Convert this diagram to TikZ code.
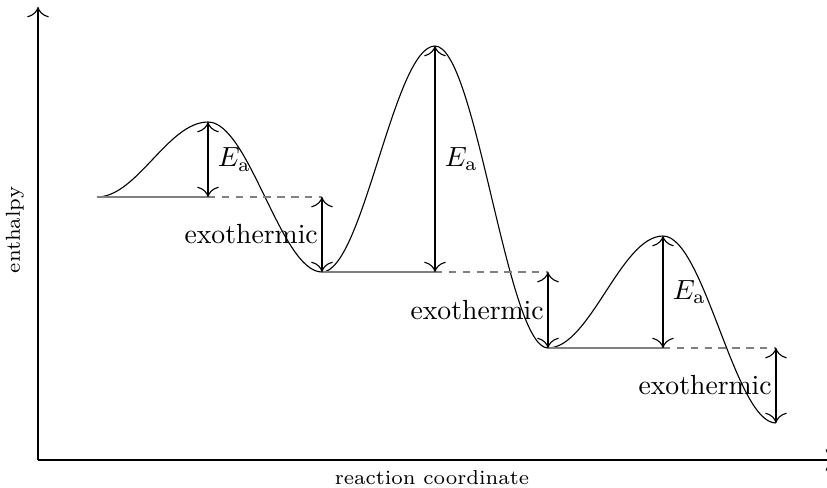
\documentclass[tikz,border=0pt]{standalone}
\usetikzlibrary{calc,arrows.meta}
\begin{document}
\begin{tikzpicture}[x=0.361pt,y=-0.361pt,
  >={To[scale=1.5]},
  level/.style={gray},
  levelext/.style={gray,dashed,dash pattern=on 2.7pt off 2.3pt},
  gap/.style={<->},
  axislabel/.style={font=\fontsize{7.3}{9}\selectfont}]
\useasboundingbox (0,0) rectangle (827,487);
% key points
\coordinate (s)  at (97,197);
\coordinate (p1) at (208,122);
\coordinate (m1) at (322,272);
\coordinate (p2) at (435,46);
\coordinate (m2) at (548,348);
\coordinate (p3) at (663,236);
\coordinate (e)  at (776,423);
% axes
\coordinate (o) at (38,460);
\coordinate (ytop) at (38,7);
\coordinate (xend) at (836,460);
\draw[->] (o) -- (ytop);
\draw[->] (o) -- (xend);
\node[axislabel,rotate=90] (ylab) at (15,230) {enthalpy};
\node[axislabel] (xlab) at (432,478) {reaction coordinate};
% curve
\draw (s) .. controls +(40,0) and +(-40,0) .. (p1)
          .. controls +(41,0) and +(-41,0) .. (m1)
          .. controls +(41,0) and +(-41,0) .. (p2)
          .. controls +(41,0) and +(-41,0) .. (m2)
          .. controls +(42,0) and +(-42,0) .. (p3)
          .. controls +(41,0) and +(-41,0) .. (e);
% levels
\coordinate (b1) at (s -| p1);
\coordinate (t1) at (s -| m1);
\coordinate (b2) at (m1 -| p2);
\coordinate (t2) at (m1 -| m2);
\coordinate (b3) at (m2 -| p3);
\coordinate (t3) at (m2 -| e);
\draw[level] (s) -- (b1);
\draw[levelext] (b1) -- (t1);
\draw[level] (m1) -- (b2);
\draw[levelext] (b2) -- (t2);
\draw[level] (m2) -- (b3);
\draw[levelext] (b3) -- (t3);
% activation energies
\draw[gap] (b1) -- (p1);
\draw[gap] (b2) -- (p2);
\draw[gap] (b3) -- (p3);
\node[anchor=west] (ea1) at ($(b1)!0.5!(p1)$) {$E_\mathrm{a}$};
\node[anchor=west] (ea2) at ($(b2)!0.5!(p2)$) {$E_\mathrm{a}$};
\node[anchor=west] (ea3) at ($(b3)!0.5!(p3)$) {$E_\mathrm{a}$};
% exothermic
\draw[gap] (t1) -- (m1);
\draw[gap] (t2) -- (m2);
\draw[gap] (t3) -- (e);
\node[anchor=east,xshift=2pt] (ex1) at ($(t1)!0.5!(m1)$) {exothermic};
\node[anchor=east,xshift=2pt] (ex2) at ($(t2)!0.5!(m2)$) {exothermic};
\node[anchor=east,xshift=2pt] (ex3) at ($(t3)!0.5!(e)$) {exothermic};
\end{tikzpicture}
\end{document}
